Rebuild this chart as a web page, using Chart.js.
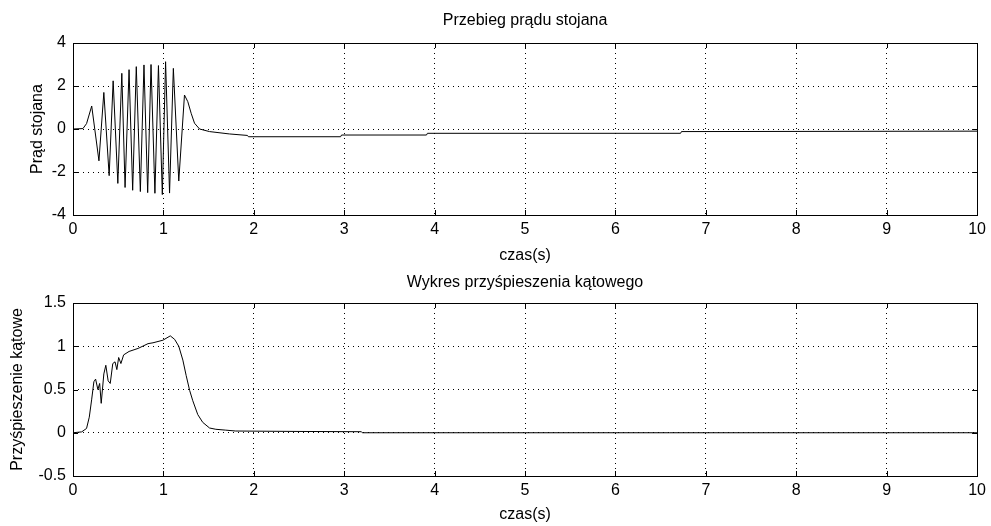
<!DOCTYPE html>
<html><head><meta charset="utf-8">
<script src="https://cdn.jsdelivr.net/npm/chart.js@4.4.0/dist/chart.umd.min.js"></script>
<style>
html,body{margin:0;padding:0;background:#fff;overflow:hidden;width:991px;height:526px}
#c1{position:absolute;left:0;top:0}
#c2{position:absolute;left:0;top:263px}
</style></head><body>
<canvas id="c1" width="991" height="263"></canvas>
<canvas id="c2" width="991" height="263"></canvas>
<script>
// ---- data ----
const xTickValues = [0,1,2,3,4,5,6,7,8,9,10];
const currentYTicks = [-4,-2,0,2,4];
const accelYTicks = [-0.5,0,0.5,1,1.5];

const currentTime = [0,0.11,0.15,0.207,0.287,0.341,0.40,0.444,0.496,0.54,0.576,0.62,0.66,0.70,0.745,0.785,0.826,0.863,0.906,0.945,0.988,1.024,1.068,1.11,1.17,1.233,1.27,1.307,1.344,1.40,1.51,1.73,1.93,1.94,2.96,2.97,3.91,3.92,6.72,6.73,10];
const currentValue = [0,0.02,0.25,1.07,-1.48,1.7,-2.17,2.24,-2.53,2.59,-2.72,2.76,-2.85,2.9,-2.91,2.98,-2.96,3.0,-2.99,2.95,-3.05,3.13,-2.98,2.82,-2.42,1.58,1.27,0.73,0.27,0.0,-0.12,-0.23,-0.3,-0.36,-0.36,-0.28,-0.28,-0.2,-0.2,-0.12,-0.1];

const accelTime = [0,0.096,0.15,0.18,0.206,0.231,0.25,0.275,0.295,0.312,0.341,0.363,0.389,0.412,0.44,0.465,0.485,0.505,0.53,0.56,0.62,0.72,0.83,0.885,0.995,1.076,1.124,1.17,1.215,1.252,1.29,1.325,1.38,1.435,1.51,1.58,1.69,1.8,2.5,3.19,3.2,10];
const accelValue = [0,0.01,0.05,0.18,0.38,0.59,0.62,0.5,0.57,0.34,0.68,0.78,0.6,0.57,0.8,0.82,0.73,0.87,0.8,0.9,0.94,0.975,1.03,1.04,1.07,1.12,1.08,1.0,0.84,0.66,0.49,0.37,0.21,0.12,0.055,0.04,0.03,0.02,0.015,0.012,0,0];

const FONT = '"Liberation Sans", Arial, Helvetica, sans-serif';
const FSIZE = 16;

const matlabPlugin = {
  id: 'matlabAxes',
  afterDatasetsDraw(chart, args, o) {
    const ctx = chart.ctx, a = chart.chartArea;
    const xs = chart.scales.x, ys = chart.scales.y;
    ctx.save();
    ctx.strokeStyle = '#000';
    ctx.lineWidth = 1;
    ctx.setLineDash([]);
    ctx.beginPath();
    const L = 5;
    xs.ticks.forEach(t => {
      const px = Math.round(xs.getPixelForValue(t.value)) + 0.5;
      ctx.moveTo(px, a.bottom); ctx.lineTo(px, a.bottom - L);
      ctx.moveTo(px, a.top); ctx.lineTo(px, a.top + L);
    });
    ys.ticks.forEach(t => {
      const py = Math.round(ys.getPixelForValue(t.value)) + 0.5;
      ctx.moveTo(a.left, py); ctx.lineTo(a.left + L, py);
      ctx.moveTo(a.right, py); ctx.lineTo(a.right - L, py);
    });
    ctx.stroke();
    ctx.strokeRect(Math.round(a.left) + 0.5, Math.round(a.top) + 0.5, Math.round(a.right - a.left), Math.round(a.bottom - a.top));
    // texts
    ctx.fillStyle = '#000';
    ctx.font = FSIZE + 'px ' + FONT;
    ctx.textAlign = 'center';
    ctx.textBaseline = 'middle';
    const cx = (a.left + a.right) / 2;
    ctx.fillText(o.title, cx, o.titleY);
    ctx.fillText(o.xlabel, cx, o.xlabelY);
    ctx.save();
    ctx.translate(o.ylabelX, (a.top + a.bottom) / 2);
    ctx.rotate(-Math.PI / 2);
    ctx.fillText(o.ylabel, 0, 0);
    ctx.restore();
    ctx.restore();
  }
};

function makeChart(id, times, values, yTicks, opts) {
  const pts = times.map((t, i) => ({x: t, y: values[i]}));
  return new Chart(document.getElementById(id), {
    type: 'line',
    data: { datasets: [{ data: pts, borderColor: '#000', borderWidth: 1, pointRadius: 0, tension: 0, fill: false }] },
    options: {
      responsive: false, animation: false, devicePixelRatio: 1,
      layout: { padding: { left: 0, right: 10, top: opts.top, bottom: 0 } },
      plugins: { legend: { display: false }, tooltip: { enabled: false }, title: { display: false },
        matlabAxes: opts.labels },
      scales: {
        x: {
          type: 'linear', min: 0, max: 10,
          afterBuildTicks: s => { s.ticks = xTickValues.map(v => ({value: v})); },
          afterFit: s => { s.height = opts.xh; },
          grid: { color: '#000', lineWidth: 1, drawTicks: false },
          border: { display: false, dash: [1, 4] },
          ticks: { color: '#000', font: { family: FONT, size: FSIZE }, padding: 5, maxRotation: 0, autoSkip: false,
                   callback: v => String(v) }
        },
        y: {
          type: 'linear', min: yTicks[0], max: yTicks[yTicks.length - 1],
          afterBuildTicks: s => { s.ticks = yTicks.map(v => ({value: v})); },
          afterFit: s => { s.width = 73; },
          grid: { color: '#000', lineWidth: 1, drawTicks: false },
          border: { display: false, dash: [1, 4] },
          ticks: { color: '#000', font: { family: FONT, size: FSIZE }, padding: 7, autoSkip: false,
                   callback: v => String(v) }
        }
      }
    },
    plugins: [matlabPlugin]
  });
}

makeChart('c1', currentTime, currentValue, currentYTicks, {
  top: 43, xh: 48,
  labels: { title: 'Przebieg prądu stojana', titleY: 21, xlabel: 'czas(s)', xlabelY: 256, ylabel: 'Prąd stojana', ylabelX: 38 }
});
makeChart('c2', accelTime, accelValue, accelYTicks, {
  top: 40, xh: 50,
  labels: { title: 'Wykres przyśpieszenia kątowego', titleY: 20, xlabel: 'czas(s)', xlabelY: 252, ylabel: 'Przyśpieszenie kątowe', ylabelX: 18 }
});
</script>
</body></html>
